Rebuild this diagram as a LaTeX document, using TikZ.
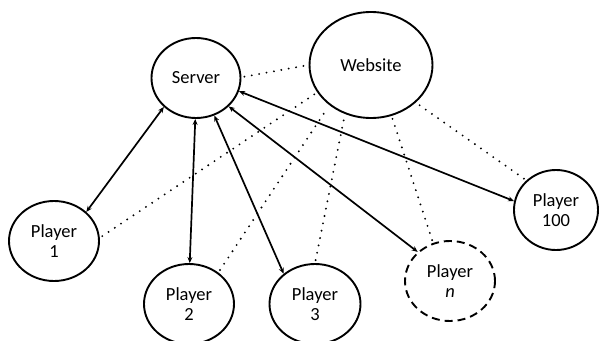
\documentclass[tikz,border=0pt]{standalone}
\usepackage{fontspec}
\setmainfont{Carlito}
\usetikzlibrary{arrows.meta,shapes.geometric}
\begin{document}
\begin{tikzpicture}[x=1pt,y=-1pt,
  ent/.style={draw, ellipse, line width=1.9pt, inner sep=0pt, align=center,
    font=\fontsize{18.5}{20.5}\selectfont, minimum width=90pt, minimum height=80pt},
  link/.style={line width=1.7pt, {Stealth[length=6pt,width=5pt]}-{Stealth[length=6pt,width=5pt]}},
  web/.style={line width=2.1pt, line cap=round, dash pattern=on 0pt off 7.5pt,
    shorten <=3pt, shorten >=3pt},
]
\useasboundingbox (0,0) rectangle (599,340);

\node[ent, minimum width=89pt] (server) at (196,78) {Server};
\node[ent, minimum width=123pt, minimum height=106pt] (website) at (371,65) {Website};
\node[ent] (p1) at (54,241) {Player\\1};
\node[ent] (p2) at (189,304) {Player\\2};
\node[ent, minimum width=91pt] (p3) at (315,304) {Player\\3};
\node[ent, dash pattern=on 8pt off 5pt] (pn) at (450,281) {Player\\\textit{n}};
\node[ent, minimum width=84pt] (p100) at (556,210) {Player\\100};

% solid two-way links
\draw[link] (server.222) -- (p1.42);
\draw[link] (server.269) -- (p2.89);
\draw[link] (server.296) -- (p3.136);
\draw[link] (server.319) -- (pn.138);
\draw[link] (server.343) -- (p100.168);

% dotted links to website
\draw[web] (server.1) -- (website.180);
\draw[web] (p1.4) -- (website.207);
\draw[web] (p2.47) -- (website.224);
\draw[web] (p3.90) -- (website.242);
\draw[web] (pn.114) -- (website.292);
\draw[web] (p100.135) -- (website.320);
\end{tikzpicture}
\end{document}
